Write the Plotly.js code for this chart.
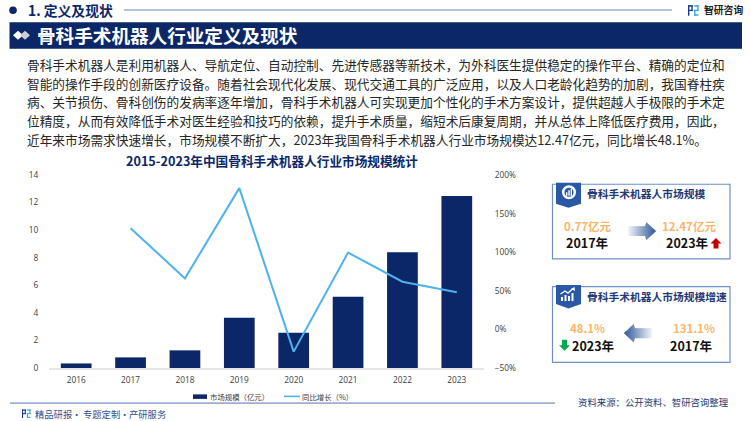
<!DOCTYPE html>
<html><head><meta charset="utf-8">
<script src="https://cdn.plot.ly/plotly-3.0.1.min.js"></script>
<style>html,body{margin:0;padding:0;background:#fff}#c{width:750px;height:421px}</style>
</head><body><div id="c"></div>
<script>
const years = ['2016','2017','2018','2019','2020','2021','2022','2023'];
const marketSize = [0.33,0.77,1.28,3.65,2.56,5.17,8.40,12.47];
const growth = [null,131.1,66.1,183,-28.8,99.5,61.8,48.1];
const seriesNames = ['市场规模（亿元）','同比增长（%）'];
const chartTitle = '2015-2023年中国骨科手术机器人行业市场规模统计';
const paragraph = [
 '骨科手术机器人是利用机器人、导航定位、自动控制、先进传感器等新技术，为外科医生提供稳定的操作平台、精确的定位和',
 '智能的操作手段的创新医疗设备。随着社会现代化发展、现代交通工具的广泛应用，以及人口老龄化趋势的加剧，我国脊柱疾',
 '病、关节损伤、骨科创伤的发病率逐年增加，骨科手术机器人可实现更加个性化的手术方案设计，提供超越人手极限的手术定',
 '位精度，从而有效降低手术对医生经验和技巧的依赖，提升手术质量，缩短术后康复周期，并从总体上降低医疗费用，因此，',
 '近年来市场需求快速增长，市场规模不断扩大，2023年我国骨科手术机器人行业市场规模达12.47亿元，同比增长48.1%。'
];

const L=49,R=484,T=175.3,B=367.7;
const fx=x=>(x-L)/(R-L), fy=y=>(B-y)/(B-T);
const CJK='"Noto Sans CJK SC","Noto Sans",sans-serif';
const NAVY='#0B2768', SKY='#4DB2EE', ORANGE='#F9B56C';
const anns=[], shapes=[];

function txt(t,x,y,size,color,bold,anchor){
  anns.push({text:bold?'<b>'+t+'</b>':t,xref:'paper',yref:'paper',x:fx(x),y:fy(y),
    xanchor:anchor||'left',yanchor:'middle',showarrow:false,borderpad:0,
    font:{family:CJK,size:size,color:color}});
}
function rect(x0,y0,x1,y1,fill,line,w){
  shapes.push({type:'rect',xref:'paper',yref:'paper',x0:fx(x0),x1:fx(x1),y0:fy(y0),y1:fy(y1),
    fillcolor:fill||'rgba(0,0,0,0)',line:{color:line||'rgba(0,0,0,0)',width:line?(w||1):0}});
}
function poly(pts,fill,line,w){
  const d=pts.map((p,i)=>(i?'L':'M')+fx(p[0]).toFixed(5)+','+fy(p[1]).toFixed(5)).join(' ')+(line&&!fill?'':' Z');
  shapes.push({type:'path',xref:'paper',yref:'paper',path:d,fillcolor:fill||'rgba(0,0,0,0)',
    line:{color:line||'rgba(0,0,0,0)',width:line?(w||1):0}});
}
function hline(x0,x1,y,c,w){
  shapes.push({type:'line',xref:'paper',yref:'paper',x0:fx(x0),x1:fx(x1),y0:fy(y),y1:fy(y),line:{color:c,width:w}});
}
function circle(cx,cy,r,fill){
  shapes.push({type:'circle',xref:'paper',yref:'paper',x0:fx(cx-r),x1:fx(cx+r),y0:fy(cy-r),y1:fy(cy+r),
    fillcolor:fill,line:{width:0,color:'rgba(0,0,0,0)'}});
}
/* decorative block arrow: vertical strips fading from pale tail to solid head */
function gradArrow(x,y,w,h,dir){
  const n=28, cy=y+h/2, notch=0.62;
  for(let i=0;i<n;i++){
    const u0=i/n, u1=(i+1)/n, mid=(u0+u1)/2;
    const half=u=>u<notch?h*0.25:(h/2)*(1-u)/(1-notch);
    const a=0.06+0.94*mid;
    const mix=(c)=>Math.round(255+(c-255)*a);
    const col='rgb('+mix(47)+','+mix(85)+','+mix(151)+')';
    const X=u=>dir>0?x+u*w:x+w-u*w;
    const e=Math.min(u1+0.01,1);
    poly([[X(u0),cy-half(u0)],[X(e),cy-half(e)],[X(e),cy+half(e)],[X(u0),cy+half(u0)]],col);
  }
}
function logo(x,y,s){
  const d='#123A86', l='#2FA0E6';
  rect(x,y,x+0.45*s,y+0.14*s,d); rect(x,y,x+0.13*s,y+s,d); rect(x+0.32*s,y,x+0.45*s,y+0.55*s,d);
  rect(x,y+0.44*s,x+0.45*s,y+0.56*s,d);
  rect(x+0.58*s,y,x+s,y+0.14*s,l); rect(x+0.87*s,y,x+s,y+0.55*s,l); rect(x+0.58*s,y+0.44*s,x+s,y+0.56*s,l);
  rect(x+0.58*s,y+0.44*s,x+0.71*s,y+s,l); rect(x+0.58*s,y+0.87*s,x+s,y+s,l);
}
function badge(top,bot,tip){
  poly([[556,top],[581,top],[581,bot],[568.5,tip],[556,bot]],'#2B58A6');
}

/* header */
circle(13,11,3.8,NAVY);
txt('1. 定义及现状',26.5,11,13.8,NAVY,true);
hline(124,672,10.8,'#9FAED0',1.6);
logo(688,6,10.5);
txt('智研咨询',703,10.8,9.8,'#222',true);
rect(9.5,23,742,49.5,NAVY);
poly([[13,36],[18,31.5],[23,36],[18,40.5]],'#fff');
poly([[20,36],[25,31.5],[30,36],[25,40.5]],'#C9CED8');
txt('骨科手术机器人行业定义及现状',35.5,35.5,18.6,'#fff',true);

/* paragraph */
const lineY=[65.3,83.6,102,120.6,139.5];
paragraph.forEach((t,i)=>txt(t,26,lineY[i],12.7,'#262626'));

/* chart title */
txt(chartTitle,125,160.5,12.65,NAVY,true);

/* legend, hand drawn to keep the reference's swatch proportions */
rect(193,394,207,398.5,NAVY);
txt(seriesNames[0],209,396,7.4,'#404040');
hline(284,300,396,SKY,1.6);
txt(seriesNames[1],301,396,7.4,'#404040');

/* side card 1 */
rect(552.5,184.5,730,259,'#fff','#6F8FC9',1.2);
badge(183,204,208);
circle(569,192.5,7,'#fff'); circle(569,192.5,4.6,'#2B58A6');
rect(566,192.5,567.4,196,'#fff'); rect(568.3,190.5,569.7,196,'#fff'); rect(570.6,189,572,196,'#fff');
txt('骨科手术机器人市场规模',586,194,10.75,'#1F3A78',true);
txt('0.77亿元',587.5,226,11.5,ORANGE,true,'center');
txt('2017年',587,243,12.5,'#111',true,'center');
gradArrow(628,221.5,28,19.5,1);
txt('12.47亿元',689,226,11.5,ORANGE,true,'center');
txt('2023年',686.5,243,12.5,'#111',true,'center');
poly([[716,238],[721.5,243.5],[718.5,243.5],[718.5,248.5],[713.5,248.5],[713.5,243.5],[710.5,243.5]],'#C00000');

/* side card 2 */
rect(552.5,286.5,730,362,'#fff','#6F8FC9',1.2);
badge(285,304,308.5);
rect(561,297,563,301,'#fff'); rect(564.5,295,566.5,301,'#fff'); rect(568,296,570,301,'#fff'); rect(571.5,293,573.5,301,'#fff');
poly([[560.5,294],[565,291],[568,293],[573,288.5]],null,'#fff',1.3);
poly([[574.5,287],[575,291],[571,289]],'#fff');
txt('骨科手术机器人市场规模增速',586,296,10.75,'#1F3A78',true);
txt('48.1%',587,327.5,11.5,ORANGE,true,'center');
txt('2023年',593,345,12.5,'#111',true,'center');
gradArrow(624,323,28,20,-1);
txt('131.1%',693.5,327.5,11.5,ORANGE,true,'center');
txt('2017年',691,345,12.5,'#111',true,'center');
poly([[564.5,350.5],[559,345],[562,345],[562,339.5],[567,339.5],[567,345],[570,345]],'#00A84F');

/* footer */
hline(10,555,402.7,'#9FAED0',1.6);
logo(22,409,8.5);
txt('精品研报',34,413.5,9.3,'#33508F');
txt('·',76,413.5,9.3,'#33508F',false,'center');
txt('专题定制',81.7,413.5,9.3,'#33508F');
txt('·',124,413.5,9.3,'#33508F',false,'center');
txt('产研服务',128,413.5,9.3,'#33508F');
txt('资料来源：公开资料、智研咨询整理',577,402,9.4,'#1F3A78');

const traces=[
 {type:'bar',x:years,y:marketSize,name:seriesNames[0],marker:{color:NAVY},yaxis:'y',hoverinfo:'x+y'},
 {type:'scatter',mode:'lines',x:years,y:growth,name:seriesNames[1],yaxis:'y2',
  line:{color:SKY,width:2,shape:'linear'},connectgaps:false,hoverinfo:'x+y'}
];
const tf={family:'"Open Sans","Noto Sans",sans-serif',size:8.3,color:'#404040'};
const layout={
 width:750,height:421,paper_bgcolor:'#fff',plot_bgcolor:'#fff',showlegend:false,
 margin:{l:L,r:750-R,t:T,b:421-B,pad:0},bargap:0.435,
 font:{family:CJK},
 xaxis:{type:'category',categoryorder:'array',categoryarray:years,showgrid:false,zeroline:false,
   showline:true,linecolor:'#E6E6E6',linewidth:1.5,ticks:'outside',ticklen:3,tickcolor:'rgba(0,0,0,0)',tickfont:tf},
 yaxis:{range:[0,14],dtick:2,showgrid:false,zeroline:false,showline:false,ticks:'outside',ticklen:8,
   tickcolor:'rgba(0,0,0,0)',tickfont:tf},
 yaxis2:{range:[-50,200],dtick:50,overlaying:'y',side:'right',showgrid:false,zeroline:false,showline:false,
   ticks:'outside',ticklen:8,tickcolor:'rgba(0,0,0,0)',ticksuffix:'%',tickfont:tf},
 shapes:shapes,annotations:anns
};
Plotly.newPlot('c',traces,layout,{displayModeBar:false,responsive:false});
</script></body></html>
